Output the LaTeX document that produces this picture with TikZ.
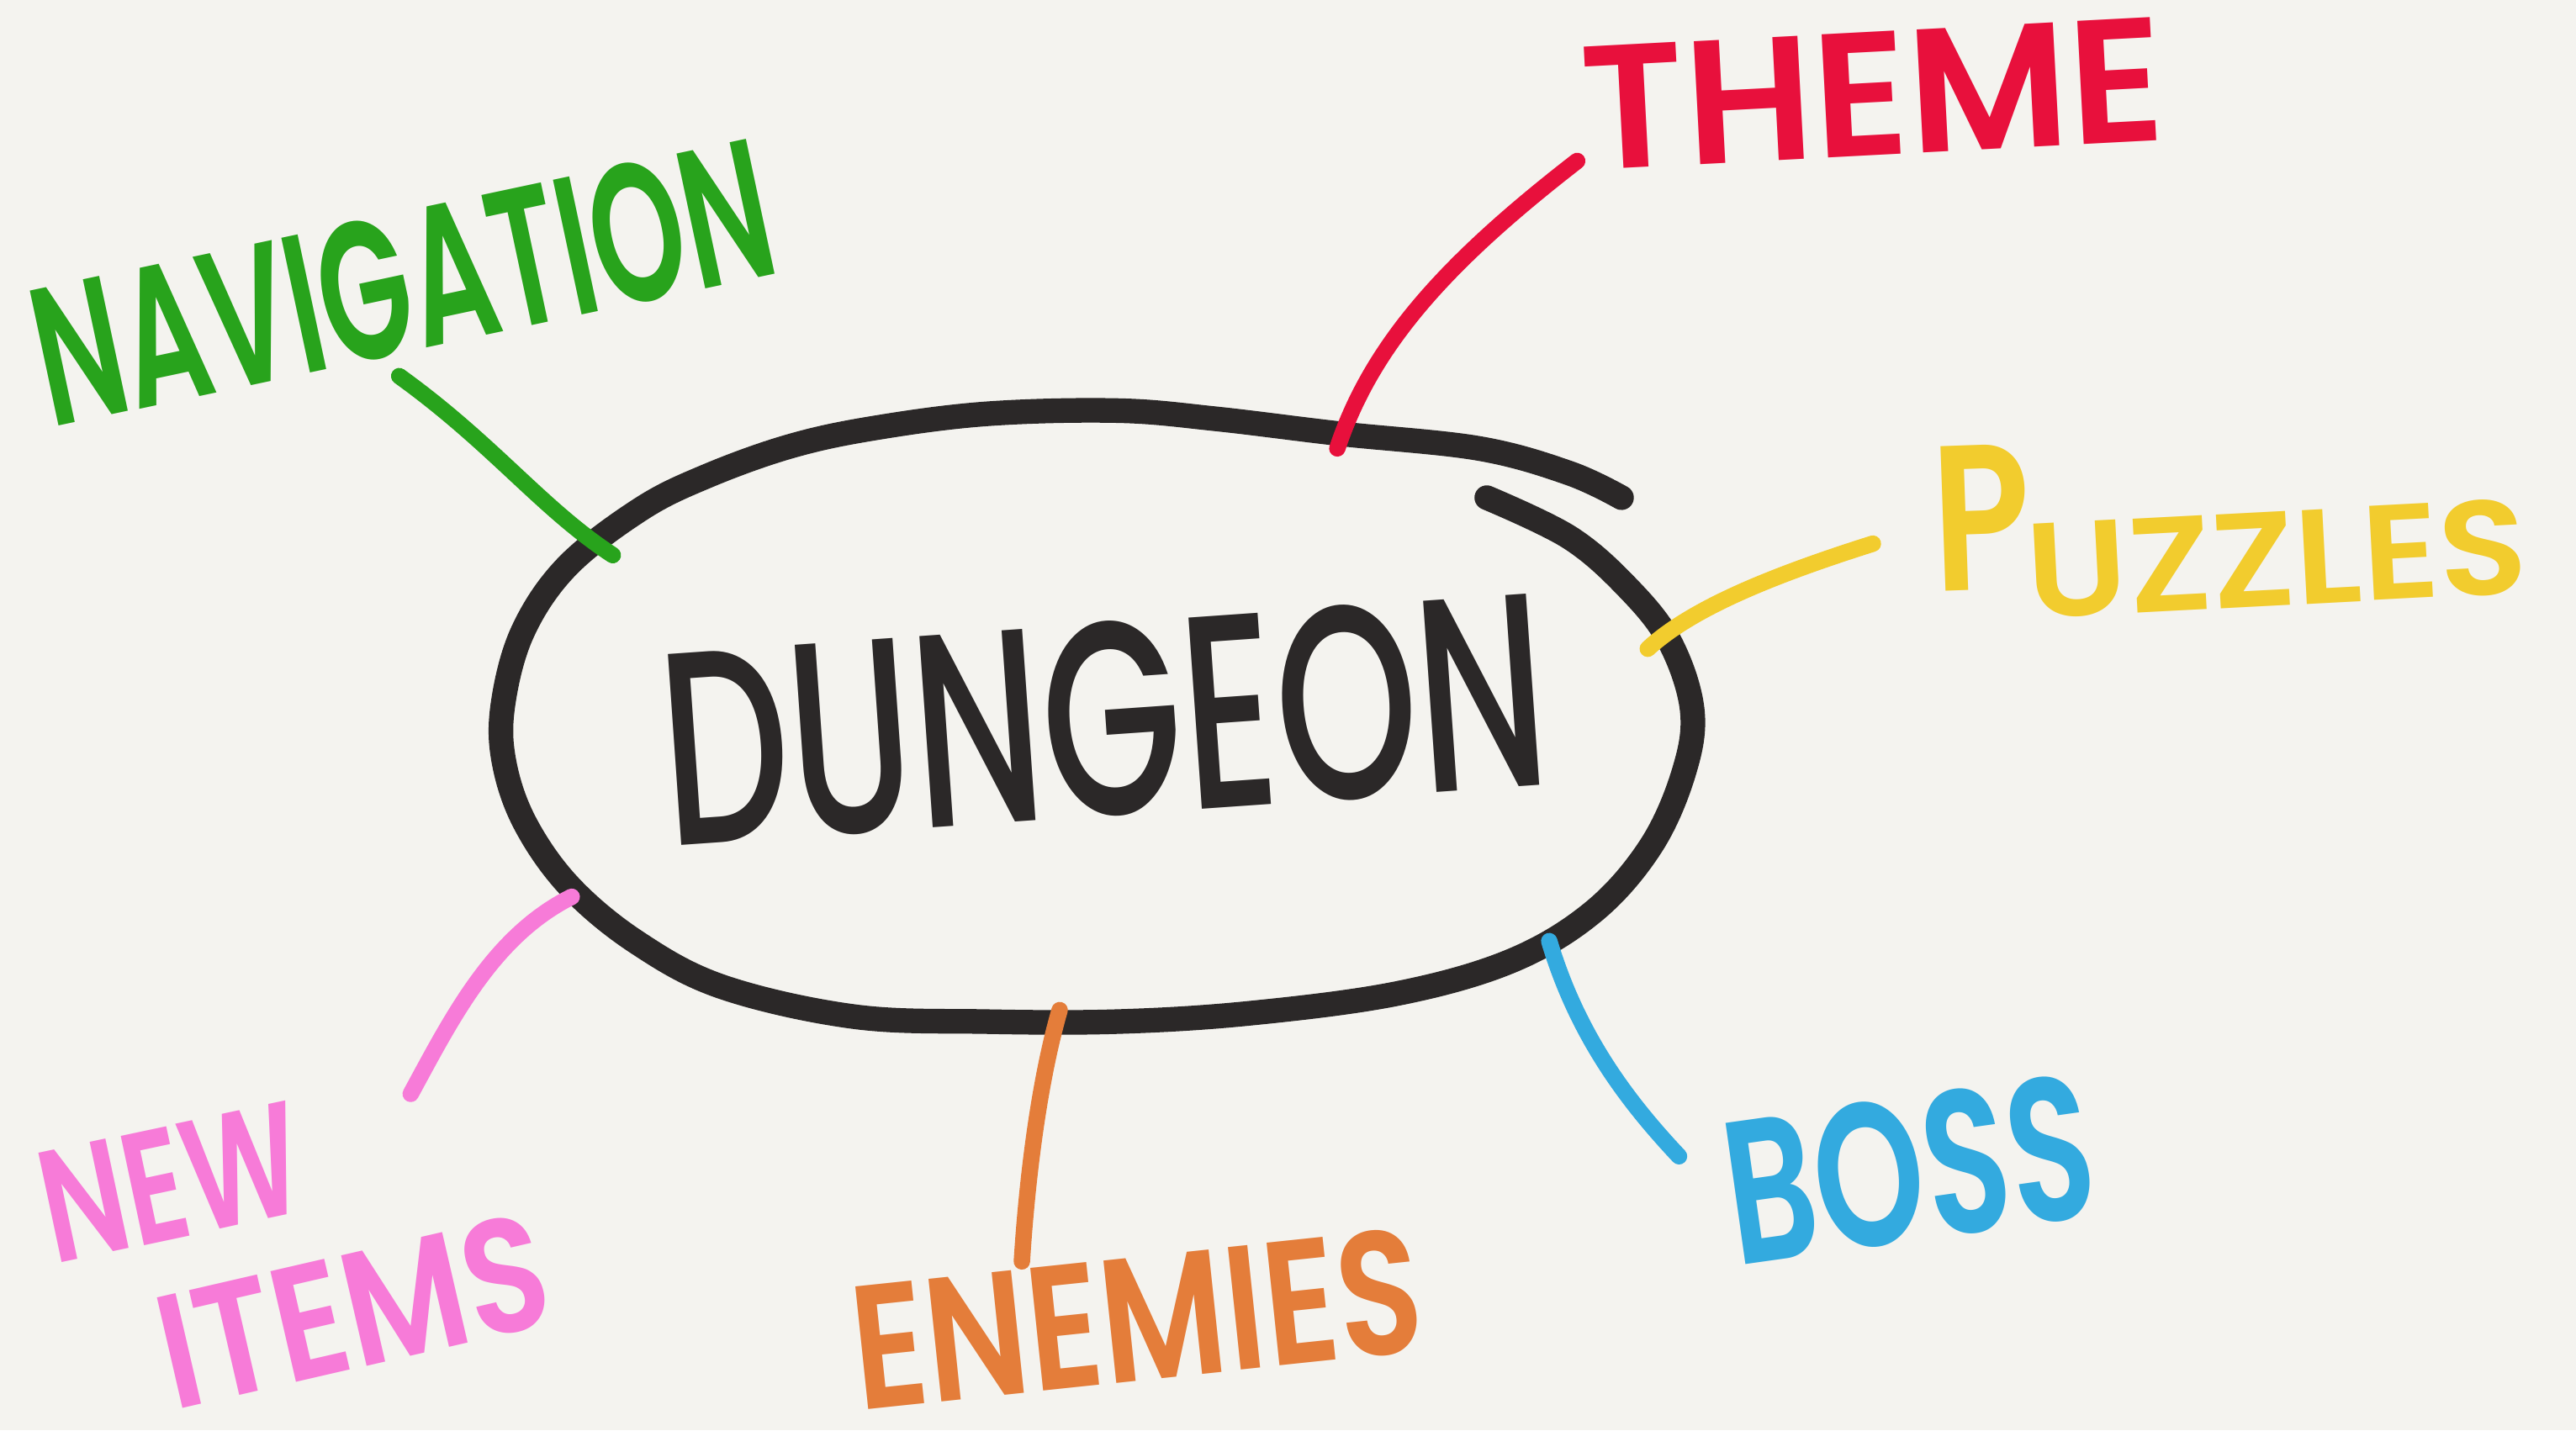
\documentclass[tikz,border=0pt]{standalone}
\usepackage{fontspec}
\setmainfont{Poppins}
\IfFontExistsTF{Poppins Medium}
  {\newfontfamily\titlefont{Poppins Medium}}
  {\newfontfamily\titlefont{Poppins}}
\IfFontExistsTF{Poppins SemiBold}
  {\newfontfamily\labelfont{Poppins SemiBold}}
  {\newfontfamily\labelfont{Poppins}}
\usepackage{graphicx}
\definecolor{paper}{RGB}{244,243,239}
\definecolor{ink}{RGB}{43,40,40}
\definecolor{cGreen}{RGB}{40,163,28}
\definecolor{cRed}{RGB}{232,16,60}
\definecolor{cYellow}{RGB}{242,204,46}
\definecolor{cBlue}{RGB}{51,170,223}
\definecolor{cOrange}{RGB}{228,125,58}
\definecolor{cPink}{RGB}{247,123,216}
\tikzset{
  loopline/.style={line width=15pt, line cap=round, line join=round},
  branchline/.style={line width=10pt, line cap=round, line join=round},
  lbl/.style={inner sep=0pt, outer sep=0pt, font=\labelfont},
}
% width x height of a hand-lettered label
\newcommand{\handtext}[3]{\resizebox{#1pt}{#2pt}{#3}}
\begin{document}
\begin{tikzpicture}[x=1pt,y=-1pt]
  \useasboundingbox (0,0) rectangle (1568,871);
  \fill[paper] (0,0) rectangle (1568,871);

  % central hand-drawn loop
  \draw[loopline, ink] plot[smooth, tension=0.6] coordinates {
    (987,303) (955,288) (900,273) (815,264) (740,255) (680,250) (600,252)
    (530,261) (480,272) (430,290) (390,310) (345,345) (318,385) (306,430)
    (307,465) (320,502) (347,540) (388,574) (440,601) (520,619) (600,622)
    (680,622) (760,617) (850,605) (920,585) (970,555) (1005,515) (1025,470)
    (1030,432) (1016,390) (990,357) (955,327) (905,303)};
  \coordinate (cNav) at (373,338);
  \coordinate (cTheme) at (814,273);
  \coordinate (cPuz) at (1003,395);
  \coordinate (cBoss) at (943,573);
  \coordinate (cEne) at (645,615);
  \coordinate (cNew) at (348,546);

  \node[lbl, font=\titlefont, text=ink, rotate=4] (dungeon) at (672,438)
    {\handtext{540}{118}{DUNGEON}};

  % branch labels
  \node[lbl, text=cGreen, rotate=12] (nav) at (245,172)
    {\handtext{455}{85}{NAVIGATION}};
  \node[lbl, text=cRed, rotate=3] (theme) at (1140,57)
    {\handtext{355}{75}{THEME}};
  \node[lbl, text=cYellow, rotate=2] (puzP) at (1206,315)
    {\handtext{60}{88}{P}};
  \node[lbl, text=cYellow, rotate=3] (puz) at (1386,340)
    {\handtext{305}{58}{UZZLES}};
  \node[lbl, text=cBlue, rotate=8] (boss) at (1162,712)
    {\handtext{225}{88}{BOSS}};
  \node[lbl, text=cOrange, rotate=6] (enemies) at (692,803)
    {\handtext{348}{76}{ENEMIES}};
  \node[lbl, text=cPink, rotate=12] (new) at (104,720)
    {\handtext{160}{68}{NEW}};
  \node[lbl, text=cPink, rotate=13] (items) at (215,798)
    {\handtext{240}{70}{ITEMS}};

  % connectors
  \coordinate (eNav) at (243,229);
  \coordinate (eTheme) at (960,98);
  \coordinate (ePuz) at (1140,331);
  \coordinate (eBoss) at (1022,704);
  \coordinate (eEne) at (622,768);
  \coordinate (eNew) at (250,666);
  \draw[branchline, cGreen] (eNav) .. controls (300,270) and (330,310) .. (cNav);
  \draw[branchline, cRed] (eTheme) .. controls (880,160) and (835,210) .. (cTheme);
  \draw[branchline, cYellow] (ePuz) .. controls (1080,350) and (1030,370) .. (cPuz);
  \draw[branchline, cBlue] (cBoss) .. controls (960,630) and (990,670) .. (eBoss);
  \draw[branchline, cOrange] (cEne) .. controls (632,660) and (625,720) .. (eEne);
  \draw[branchline, cPink] (cNew) .. controls (300,570) and (275,620) .. (eNew);
\end{tikzpicture}
\end{document}
